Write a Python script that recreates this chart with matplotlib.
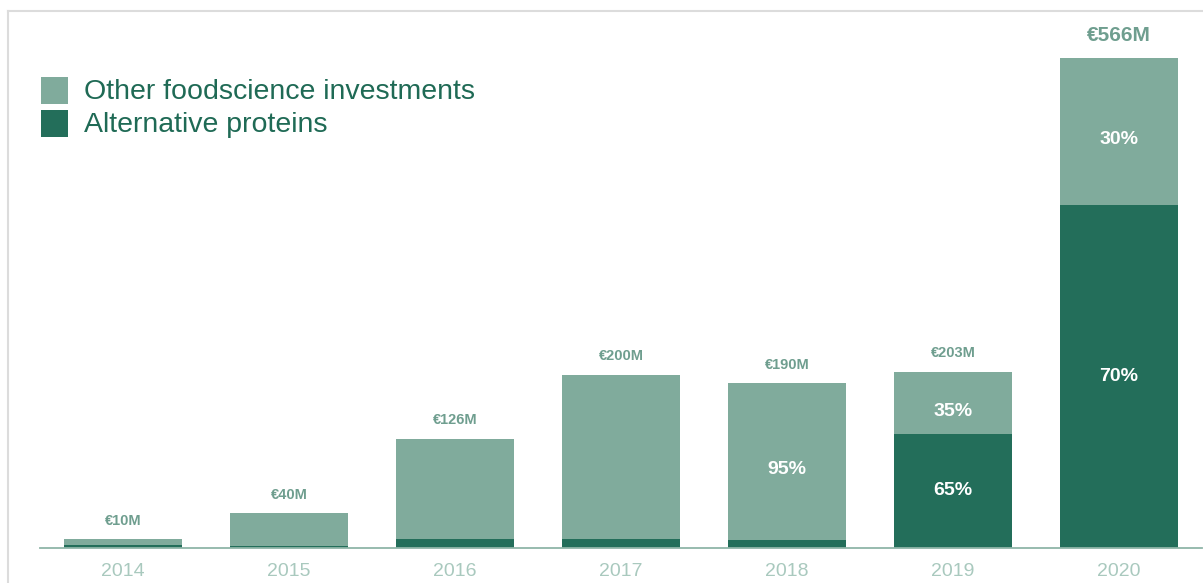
import matplotlib.pyplot as plt
from matplotlib.patches import Rectangle
from matplotlib.lines import Line2D

plt.rcParams['font.family'] = ['Liberation Sans', 'DejaVu Sans']

# investment per year, in million euro
years = ['2014', '2015', '2016', '2017', '2018', '2019', '2020']
totals = [10, 40, 126, 200, 190, 203, 566]
alt_proteins = [3, 2, 10, 10, 9.5, 132, 396]
other = [t - a for t, a in zip(totals, alt_proteins)]
# which segments get a percentage written inside
show_other_pct = [False, False, False, False, True, True, True]
show_alt_pct = [False, False, False, False, False, True, True]

light = '#80ab9c'
dark = '#236e5a'
text_dark = '#1f6a55'
value_col = '#6f9e8f'
year_col = '#a9c9be'

fig = plt.figure(figsize=(12.03, 5.83), dpi=100)
ax = fig.add_axes([40/1203, 35/583, 1162/1203, 537/583])

x = range(len(years))
w = 0.71
ax.bar(x, alt_proteins, width=w, color=dark, zorder=2)
ax.bar(x, other, width=w, bottom=alt_proteins, color=light, zorder=2)

for i in x:
    big = (i == len(years) - 1)
    ax.annotate('€%dM' % totals[i], (i, totals[i]), xytext=(0, 16 if big else 13.5),
                textcoords='offset points', ha='center', va='center',
                fontsize=15 if big else 10.5, fontweight='bold', color=value_col)
    if show_other_pct[i]:
        ax.annotate('%d%%' % round(other[i] / totals[i] * 100), (i, alt_proteins[i] + other[i] / 2),
                    xytext=(0, -6), textcoords='offset points',
                    ha='center', va='center', fontsize=14, fontweight='bold', color='white', zorder=3)
    if show_alt_pct[i]:
        ax.text(i, alt_proteins[i] / 2, '%d%%' % round(alt_proteins[i] / totals[i] * 100),
                ha='center', va='center', fontsize=14, fontweight='bold', color='white', zorder=3)

ax.set_xlim(-0.5, 6.5)
ax.set_ylim(0, 620)
ax.set_xticks(list(x))
ax.set_xticklabels(years, fontsize=14, color=year_col)
ax.tick_params(axis='x', length=0, pad=11)
ax.set_yticks([])
for s in ['top', 'right', 'left']:
    ax.spines[s].set_visible(False)
ax.spines['bottom'].set_color('#8fb5a8')
ax.spines['bottom'].set_linewidth(1.3)
ax.spines['bottom'].set_zorder(3)

# legend drawn by hand
W, H = 1203, 583
for j, (lab, c) in enumerate([('Other foodscience investments', light), ('Alternative proteins', dark)]):
    y0 = 77 + j * 33
    fig.patches.append(Rectangle((41/W, 1 - (y0 + 27)/H), 27/W, 27/H, transform=fig.transFigure,
                                 facecolor=c, edgecolor='none'))
    fig.text(84/W, 1 - (y0 + 15)/H, lab, fontsize=20.5, color=text_dark, va='center', ha='left')

# light grey frame around the chart
fig.add_artist(Line2D([8/W, 1], [1 - 11/H, 1 - 11/H], color='#dcdcdc', lw=1.5, transform=fig.transFigure))
fig.add_artist(Line2D([8/W, 8/W], [0, 1 - 11/H], color='#dcdcdc', lw=1.5, transform=fig.transFigure))

fig.savefig('out.png', dpi=100)
